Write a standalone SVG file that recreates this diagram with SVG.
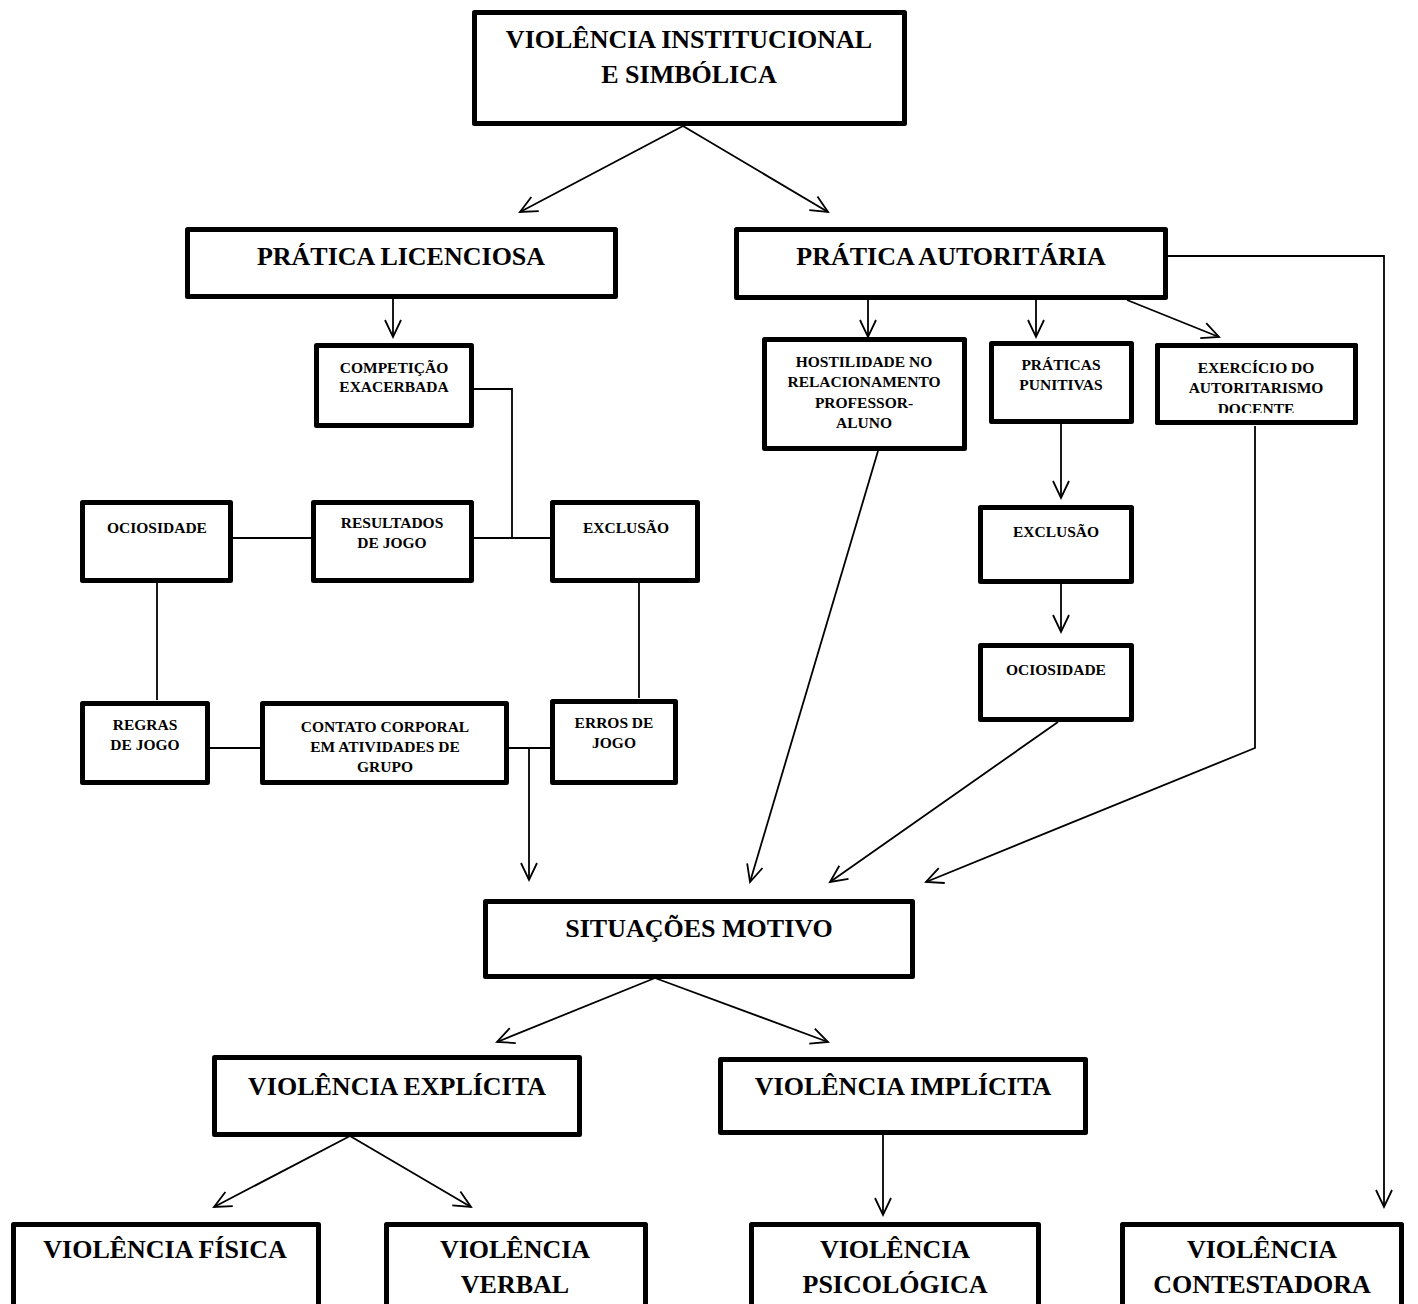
<svg xmlns="http://www.w3.org/2000/svg" width="1418" height="1304" viewBox="0 0 1418 1304">
<style>
.box{fill:#fff;stroke:#000;stroke-width:5;stroke-linejoin:round}
.frame{fill:none;stroke:#000;stroke-width:5;stroke-linejoin:round}
.big{font-family:"Liberation Serif","Times New Roman",serif;font-weight:bold;font-size:26px;text-anchor:middle;fill:#000}
.sm{font-family:"Liberation Serif","Times New Roman",serif;font-weight:bold;font-size:15.5px;text-anchor:middle;fill:#000}
.ln{fill:none;stroke:#000;stroke-width:1.8}
.ar{fill:none;stroke:#000;stroke-width:1.8;marker-end:url(#ah)}
</style>
<defs>
<marker id="ah" markerUnits="userSpaceOnUse" markerWidth="24" markerHeight="24" viewBox="-20 -12 24 24" refX="0" refY="0" orient="auto" overflow="visible">
<path d="M-17,-8 L0,0 L-17,8" fill="none" stroke="#000" stroke-width="1.8"/>
</marker>
<clipPath id="clipDoc"><rect x="1150" y="340" width="215" height="73"/></clipPath>
</defs>
<rect width="1418" height="1304" fill="#fff"/>

<g id="connectors">
<line class="ar" x1="683" y1="126" x2="520" y2="212"/>
<line class="ar" x1="683" y1="126" x2="828" y2="212"/>
<line class="ar" x1="393" y1="299" x2="393" y2="337"/>
<polyline class="ln" points="474,389 512,389 512,538"/>
<line class="ln" x1="233" y1="538" x2="311" y2="538"/>
<line class="ln" x1="474" y1="538" x2="550" y2="538"/>
<line class="ln" x1="157" y1="583" x2="157" y2="700"/>
<line class="ln" x1="639" y1="583" x2="639" y2="698"/>
<line class="ln" x1="210" y1="748" x2="260" y2="748"/>
<line class="ln" x1="509" y1="748" x2="550" y2="748"/>
<line class="ar" x1="529" y1="748" x2="529" y2="880"/>
<line class="ar" x1="868" y1="300" x2="868" y2="337"/>
<line class="ar" x1="1036" y1="300" x2="1036" y2="337"/>
<line class="ar" x1="1127" y1="300" x2="1219" y2="337"/>
<polyline class="ar" points="1168,256 1384,256 1384,1207"/>
<line class="ar" x1="1061" y1="424" x2="1061" y2="498"/>
<line class="ar" x1="1061" y1="583" x2="1061" y2="632"/>
<line class="ar" x1="878" y1="451" x2="750" y2="882"/>
<line class="ar" x1="1058" y1="722" x2="830" y2="882"/>
<polyline class="ar" points="1255,426 1255,748 926,882"/>
<line class="ar" x1="655" y1="978" x2="497" y2="1042"/>
<line class="ar" x1="655" y1="978" x2="828" y2="1042"/>
<line class="ar" x1="350" y1="1136" x2="214" y2="1207"/>
<line class="ar" x1="350" y1="1136" x2="471" y2="1207"/>
<line class="ar" x1="883" y1="1134" x2="883" y2="1215"/>
</g>

<g id="n-violencia-institucional">
<rect class="box" x="474.5" y="12.5" width="430" height="111"/>
<text class="big" x="689" y="48">VIOLÊNCIA INSTITUCIONAL</text>
<text class="big" x="689" y="83">E SIMBÓLICA</text>
</g>

<g id="n-pratica-licenciosa">
<rect class="box" x="187.5" y="229.5" width="428" height="67"/>
<text class="big" x="401" y="265">PRÁTICA LICENCIOSA</text>
</g>

<g id="n-pratica-autoritaria">
<rect class="box" x="736.5" y="229.5" width="429" height="68"/>
<text class="big" x="951" y="265">PRÁTICA AUTORITÁRIA</text>
</g>

<g id="n-competicao">
<rect class="box" x="316.5" y="345.5" width="155" height="80"/>
<text class="sm" x="394" y="373">COMPETIÇÃO</text>
<text class="sm" x="394" y="392">EXACERBADA</text>
</g>

<g id="n-ociosidade-1">
<rect class="box" x="82.5" y="502.5" width="148" height="78"/>
<text class="sm" x="157" y="533">OCIOSIDADE</text>
</g>

<g id="n-resultados">
<rect class="box" x="313.5" y="502.5" width="158" height="78"/>
<text class="sm" x="392" y="528">RESULTADOS</text>
<text class="sm" x="392" y="548">DE JOGO</text>
</g>

<g id="n-exclusao-1">
<rect class="box" x="552.5" y="502.5" width="145" height="78"/>
<text class="sm" x="626" y="533">EXCLUSÃO</text>
</g>

<g id="n-regras">
<rect class="box" x="82.5" y="703.5" width="125" height="79"/>
<text class="sm" x="145" y="730">REGRAS</text>
<text class="sm" x="145" y="750">DE JOGO</text>
</g>

<g id="n-contato">
<rect class="box" x="262.5" y="703.5" width="244" height="79"/>
<text class="sm" x="385" y="732">CONTATO CORPORAL</text>
<text class="sm" x="385" y="752">EM ATIVIDADES DE</text>
<text class="sm" x="385" y="772">GRUPO</text>
</g>

<g id="n-erros">
<rect class="box" x="552.5" y="701.5" width="123" height="81"/>
<text class="sm" x="614" y="728">ERROS DE</text>
<text class="sm" x="614" y="748">JOGO</text>
</g>

<g id="n-hostilidade">
<rect class="box" x="764.5" y="339.5" width="200" height="109"/>
<text class="sm" x="864" y="367">HOSTILIDADE NO</text>
<text class="sm" x="864" y="387">RELACIONAMENTO</text>
<text class="sm" x="864" y="408">PROFESSOR-</text>
<text class="sm" x="864" y="428">ALUNO</text>
</g>

<g id="n-praticas-punitivas">
<rect class="box" x="991.5" y="343.5" width="140" height="78"/>
<text class="sm" x="1061" y="370">PRÁTICAS</text>
<text class="sm" x="1061" y="390">PUNITIVAS</text>
</g>

<g id="n-exercicio">
<rect class="box" x="1157.5" y="345.5" width="198" height="77"/>
<g clip-path="url(#clipDoc)">
<text class="sm" x="1256" y="373">EXERCÍCIO DO</text>
<text class="sm" x="1256" y="393">AUTORITARISMO</text>
<text class="sm" x="1256" y="414">DOCENTE</text>
</g>
<rect class="frame" x="1157.5" y="345.5" width="198" height="77"/>
</g>

<g id="n-exclusao-2">
<rect class="box" x="980.5" y="507.5" width="151" height="74"/>
<text class="sm" x="1056" y="537">EXCLUSÃO</text>
</g>

<g id="n-ociosidade-2">
<rect class="box" x="980.5" y="645.5" width="151" height="74"/>
<text class="sm" x="1056" y="675">OCIOSIDADE</text>
</g>

<g id="n-situacoes">
<rect class="box" x="485.5" y="901.5" width="427" height="75"/>
<text class="big" x="699" y="937">SITUAÇÕES MOTIVO</text>
</g>

<g id="n-explicita">
<rect class="box" x="214.5" y="1057.5" width="365" height="77"/>
<text class="big" x="397" y="1095">VIOLÊNCIA EXPLÍCITA</text>
</g>

<g id="n-implicita">
<rect class="box" x="720.5" y="1059.5" width="365" height="73"/>
<text class="big" x="903" y="1095">VIOLÊNCIA IMPLÍCITA</text>
</g>

<g id="n-fisica">
<rect class="box" x="13.5" y="1224.5" width="305" height="100"/>
<text class="big" x="165" y="1258">VIOLÊNCIA FÍSICA</text>
</g>

<g id="n-verbal">
<rect class="box" x="386.5" y="1224.5" width="259" height="100"/>
<text class="big" x="515" y="1258">VIOLÊNCIA</text>
<text class="big" x="515" y="1293">VERBAL</text>
</g>

<g id="n-psicologica">
<rect class="box" x="751.5" y="1224.5" width="287" height="100"/>
<text class="big" x="895" y="1258">VIOLÊNCIA</text>
<text class="big" x="895" y="1293">PSICOLÓGICA</text>
</g>

<g id="n-contestadora">
<rect class="box" x="1122.5" y="1224.5" width="279" height="100"/>
<text class="big" x="1262" y="1258">VIOLÊNCIA</text>
<text class="big" x="1262" y="1293">CONTESTADORA</text>
</g>
</svg>
